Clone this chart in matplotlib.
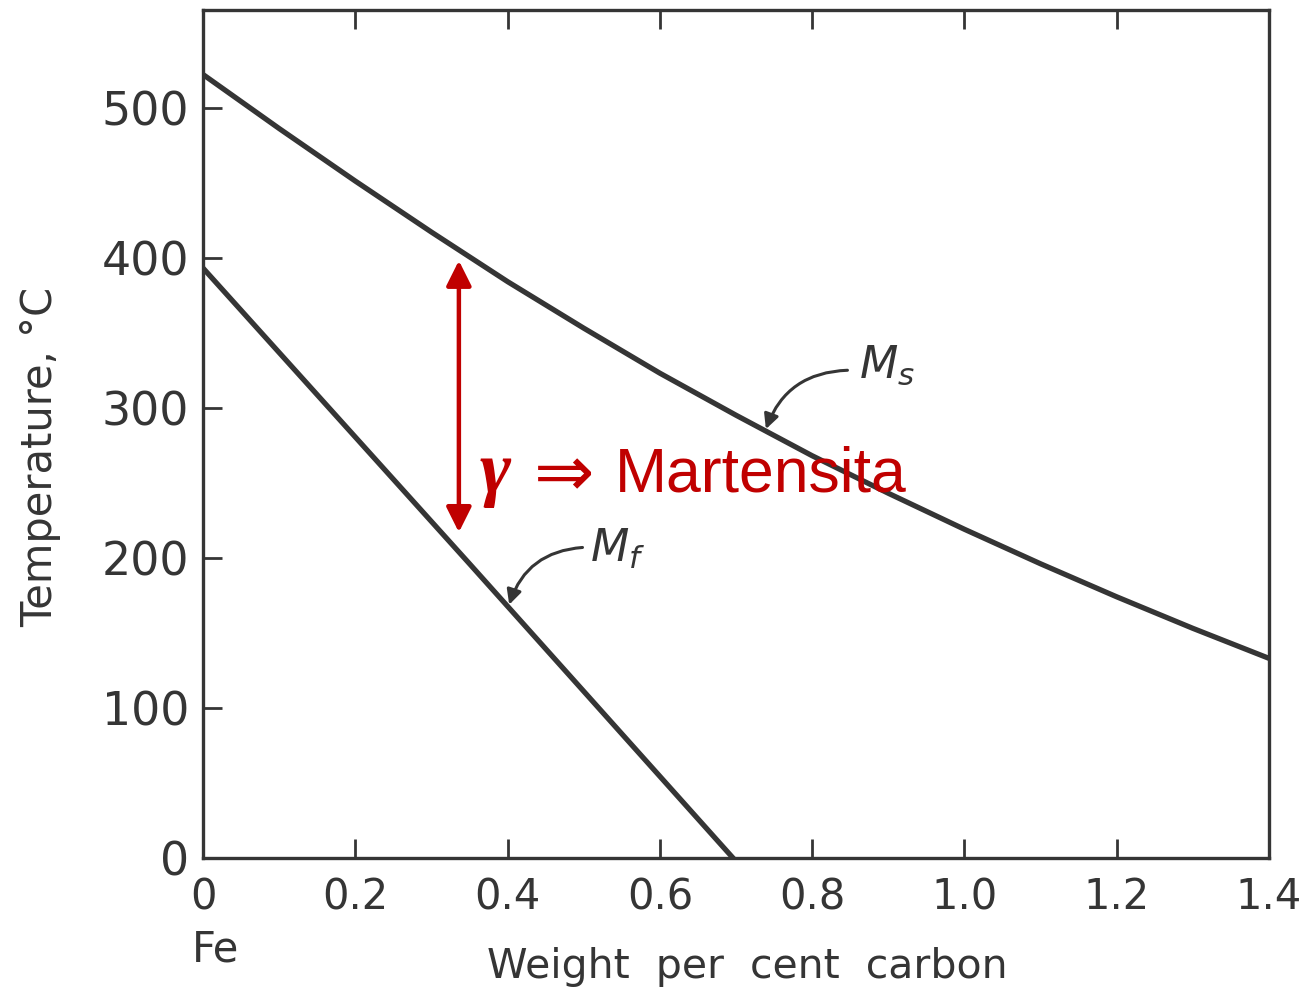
import numpy as np
import matplotlib
matplotlib.use("Agg")
import matplotlib.pyplot as plt
import matplotlib.transforms as mtransforms

# values
carbon_ms = [0.0, 0.1, 0.2, 0.3, 0.4, 0.5, 0.6, 0.7, 0.8, 0.9, 1.0, 1.1, 1.2, 1.3, 1.4]
temp_ms = [522, 486, 451, 417, 384, 353, 323, 295, 268, 243, 219, 196, 174, 153, 133]

carbon_mf = [0.0, 0.35, 0.696]
temp_mf = [393, 196, 0]

x_ticks = [0, 0.2, 0.4, 0.6, 0.8, 1.0, 1.2, 1.4]
x_ticklabels = ["0", "0.2", "0.4", "0.6", "0.8", "1.0", "1.2", "1.4"]
y_ticks = [0, 100, 200, 300, 400, 500]

INK = "#353535"
RED = "#c00000"


def main():
    plt.rcParams["mathtext.fontset"] = "dejavusans"
    fig = plt.figure(figsize=(13.05, 9.89), dpi=100)
    ax = fig.add_axes([0.1556, 0.1325, 0.8168, 0.8574])

    ax.plot(carbon_ms, temp_ms, color=INK, lw=3.8, solid_joinstyle="round")
    ax.plot(carbon_mf, temp_mf, color=INK, lw=3.8, solid_joinstyle="round")

    ax.set_xlim(0, 1.4)
    ax.set_ylim(0, 565)

    for sp in ax.spines.values():
        sp.set_color(INK)
        sp.set_linewidth(2.4)

    ax.set_xticks(x_ticks)
    ax.set_xticklabels(x_ticklabels)
    ax.set_yticks(y_ticks)
    ax.tick_params(axis="x", direction="in", length=14, width=2, color=INK,
                   top=True, labelsize=30, labelcolor=INK, pad=13)
    ax.tick_params(axis="y", direction="in", length=14, width=2, color=INK,
                   right=False, labelsize=33, labelcolor=INK, pad=10)

    # Fe under the 0 tick
    trans = mtransforms.blended_transform_factory(ax.transData, fig.transFigure)
    ax.text(0.016, 1 - 962 / 989, "Fe", transform=trans, ha="center",
            va="baseline", fontsize=30, color=INK)

    fig.text(0.573, 1 - 978 / 989, "Weight  per  cent  carbon", ha="center",
             va="baseline", fontsize=29.5, color=INK)
    fig.text(0.031, 0.538, "Temperature, °C", rotation=90, ha="center",
             va="center", fontsize=30, color=INK)

    # curve labels with curved arrows
    ax.text(0.861, 320, r"$M_s$", fontsize=32, color=INK, va="baseline")
    ax.annotate("", xy=(0.738, 284), xytext=(0.85, 325),
                arrowprops=dict(arrowstyle="-|>", color=INK, lw=2.2,
                                mutation_scale=22,
                                connectionstyle="arc3,rad=0.35"))
    ax.text(0.5085, 197, r"$M_f$", fontsize=32, color=INK, va="baseline")
    ax.annotate("", xy=(0.401, 167), xytext=(0.502, 207),
                arrowprops=dict(arrowstyle="-|>", color=INK, lw=2.2,
                                mutation_scale=22,
                                connectionstyle="arc3,rad=0.35"))

    # red overlay
    ax.annotate("", xy=(0.336, 398), xytext=(0.336, 217),
                arrowprops=dict(arrowstyle="<|-|>", color=RED, lw=3.2,
                                mutation_scale=38, shrinkA=0, shrinkB=0))
    ax.text(0.3627, 244, "γ", fontsize=54, fontweight="bold", style="italic",
            family=["Liberation Serif", "DejaVu Serif"], color=RED,
            va="baseline")
    ax.text(0.435, 254, "⇒", fontsize=52,
            family=["DejaVu Sans"], color=RED, va="center")
    ax.text(0.5414, 244, "Martensita", fontsize=45,
            family=["Liberation Sans", "DejaVu Sans"], color=RED,
            va="baseline")

    fig.savefig("out.png", dpi=100, facecolor="white")
    plt.close(fig)


if __name__ == "__main__":
    main()
